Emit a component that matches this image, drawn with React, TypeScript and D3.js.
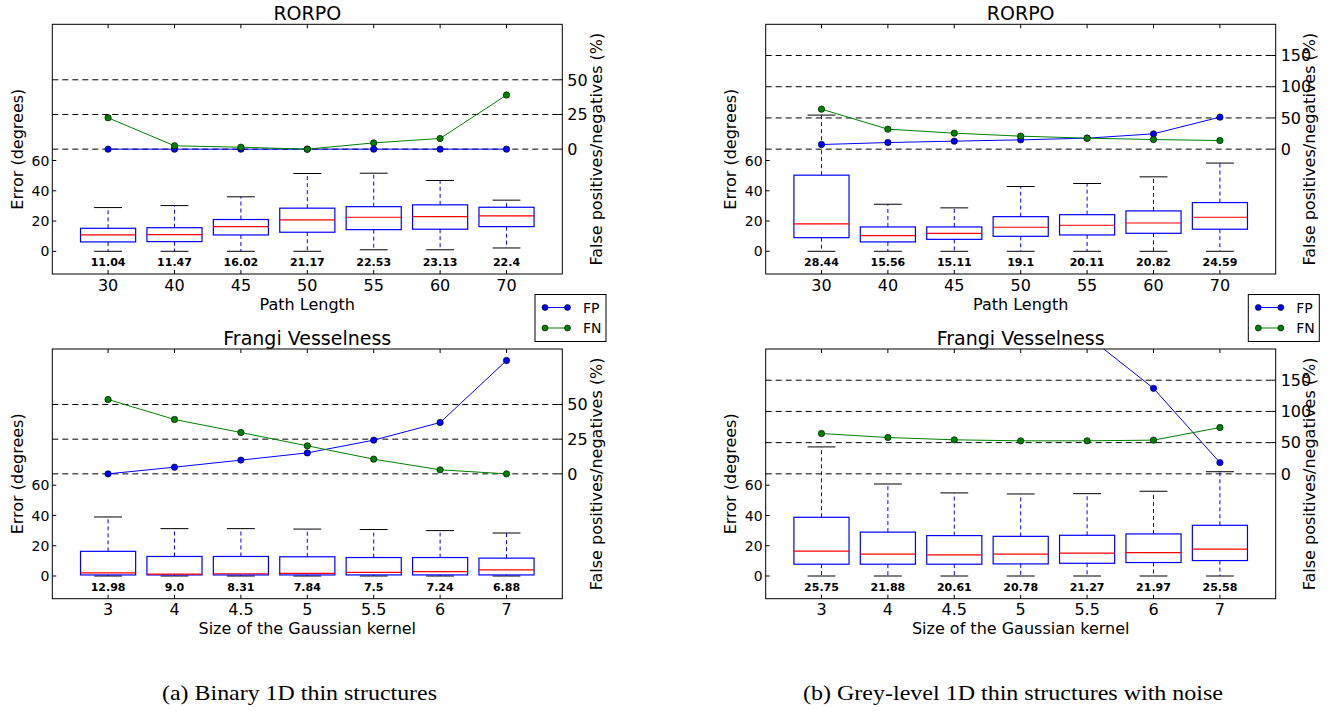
import * as d3 from "d3";

const W = 1337;
const H = 711;
const FONT = "DejaVu Sans";

const pathLengths = ["30", "40", "45", "50", "55", "60", "70"];
const kernelSizes = ["3", "4", "4.5", "5", "5.5", "6", "7"];

const errTicks = [0, 20, 40, 60];
const pctTicksA = [0, 25, 50];
const pctTicksB = [0, 50, 100, 150];

// boxes: [low whisker, Q1, median, Q3, high whisker], degrees
const rorpoBinBoxes = [
  [0, 6.2, 10.8, 15.2, 28.9],
  [0, 6.4, 11, 15.6, 30.2],
  [0, 10.8, 16.3, 21, 36],
  [0, 12.6, 20.7, 28.5, 51.4],
  [1, 14.3, 22.5, 29.5, 51.6],
  [1, 14.6, 22.9, 30.7, 46.8],
  [2.2, 16.3, 23.4, 29.1, 33.8],
];
const rorpoBinMeans = ["11.04", "11.47", "16.02", "21.17", "22.53", "23.13", "22.4"];
const rorpoBinFP = [0, 0, 0, 0, 0, 0, 0];
const rorpoBinFN = [22.6, 2.4, 1.4, 0, 4.5, 7.7, 39];

const rorpoNoiseBoxes = [
  [0, 9, 18.1, 50.3, 90],
  [0, 6.2, 10.3, 16.1, 31.1],
  [0, 7.9, 11.9, 16.1, 28.7],
  [0, 9.9, 15.9, 22.9, 42.8],
  [0, 10.8, 17.2, 24.2, 44.8],
  [0, 11.9, 18.7, 26.7, 49.2],
  [0, 14.6, 22.5, 32.2, 58.3],
];
const rorpoNoiseMeans = ["28.44", "15.56", "15.11", "19.1", "20.11", "20.82", "24.59"];
const rorpoNoiseFP = [7.4, 10.6, 12.8, 14.9, 17.6, 24.5, 51.3];
const rorpoNoiseFN = [64.1, 32, 25.6, 20.8, 17.6, 15.4, 13.8];

const frangiBinBoxes = [
  [0, 0.7, 2, 16.3, 39],
  [0, 0.7, 1.3, 12.9, 31.3],
  [0, 0.7, 1.5, 12.9, 31.3],
  [0, 0.7, 1.8, 12.7, 31],
  [0, 0.7, 2.4, 12.2, 30.7],
  [0, 0.7, 2.9, 12.2, 30],
  [0, 0.7, 4, 11.8, 28.4],
];
const frangiBinMeans = ["12.98", "9.0", "8.31", "7.84", "7.5", "7.24", "6.88"];
const frangiBinFP = [0, 4.8, 9.9, 15.1, 24.3, 37, 81.7];
const frangiBinFN = [53.6, 39.2, 29.8, 20.2, 10.6, 2.9, 0];

const frangiNoiseBoxes = [
  [0, 7.8, 16.5, 38.8, 85.3],
  [0, 7.8, 14.4, 29, 60.8],
  [0, 7.8, 14, 26.7, 54.9],
  [0, 8, 14.4, 26.2, 54.2],
  [0, 8.4, 15.1, 26.9, 54.4],
  [0, 8.9, 15.5, 27.8, 56],
  [0, 10.2, 17.8, 33.5, 68.9],
];
const frangiNoiseMeans = ["25.75", "21.88", "20.61", "20.78", "21.27", "21.97", "25.58"];
const frangiNoiseFP = [420, 360, 310, 262, 221, 137, 18];
const frangiNoiseFN = [64.6, 58.2, 54.5, 52.9, 52.9, 54, 74.2];

const PW = 510;
const PH = 249.7;

type PanelProps = {
  id: string;
  left: number;
  top: number;
  title: string;
  xLabel: string;
  cats: string[];
  boxes: number[][];
  means: string[];
  fp: number[];
  fn: number[];
  rDomain: [number, number];
  rTicks: number[];
};

function Panel(p: PanelProps) {
  const { left, top } = p;
  const right = left + PW;
  const bottom = top + PH;
  const x = d3.scaleLinear().domain([0.16, 7.84]).range([left, right]);
  const yL = d3.scaleLinear().domain([-15, 150]).range([bottom, top]);
  const yR = d3.scaleLinear().domain(p.rDomain).range([bottom, top]);
  const line = d3
    .line<number>()
    .x((_, i) => x(i + 1))
    .y((d) => yR(d));
  const bw = 0.83;
  const cw = 0.42;
  const cx = (left + right) / 2;
  const cy = (top + bottom) / 2;

  return (
    <g>
      <defs>
        <clipPath id={p.id}>
          <rect x={left} y={top} width={PW} height={PH} />
        </clipPath>
      </defs>
      {/* dashed grid on right axis */}
      {p.rTicks.map((t) => (
        <line key={t} x1={left} x2={right} y1={yR(t)} y2={yR(t)} stroke="#000" strokeDasharray="6,4" />
      ))}
      {/* boxplots */}
      {p.boxes.map((b, i) => {
        const xc = x(i + 1);
        const [lo, q1, med, q3, hi] = b;
        return (
          <g key={i}>
            <line x1={xc} x2={xc} y1={yL(q3)} y2={yL(hi)} stroke="#0000ff" strokeDasharray="4,3" />
            <line x1={xc} x2={xc} y1={yL(q1)} y2={yL(lo)} stroke="#0000ff" strokeDasharray="4,3" />
            <line x1={x(i + 1 - cw / 2)} x2={x(i + 1 + cw / 2)} y1={yL(hi)} y2={yL(hi)} stroke="#000" />
            <line x1={x(i + 1 - cw / 2)} x2={x(i + 1 + cw / 2)} y1={yL(lo)} y2={yL(lo)} stroke="#000" />
            <rect
              x={x(i + 1 - bw / 2)}
              y={yL(q3)}
              width={x(i + 1 + bw / 2) - x(i + 1 - bw / 2)}
              height={yL(q1) - yL(q3)}
              fill="none"
              stroke="#0000ff"
              strokeWidth={1.2}
            />
            <line x1={x(i + 1 - bw / 2)} x2={x(i + 1 + bw / 2)} y1={yL(med)} y2={yL(med)} stroke="#ff0000" strokeWidth={1.2} />
            <text
              x={xc}
              y={yL(-7.2)}
              dy="0.35em"
              textAnchor="middle"
              fontSize={11}
              fontWeight="bold"
              fontFamily={FONT}
            >
              {p.means[i]}
            </text>
          </g>
        );
      })}
      {/* FP / FN lines */}
      <g clipPath={`url(#${p.id})`}>
        <path d={line(p.fp) || ""} fill="none" stroke="#0000ff" strokeWidth={1} />
        {p.fp.map((v, i) => (
          <circle key={i} cx={x(i + 1)} cy={yR(v)} r={3.2} fill="#0000ff" stroke="#000" strokeWidth={0.6} />
        ))}
        <path d={line(p.fn) || ""} fill="none" stroke="#008000" strokeWidth={1} />
        {p.fn.map((v, i) => (
          <circle key={i} cx={x(i + 1)} cy={yR(v)} r={3.2} fill="#008000" stroke="#000" strokeWidth={0.6} />
        ))}
      </g>
      {/* frame */}
      <rect x={left} y={top} width={PW} height={PH} fill="none" stroke="#000" strokeWidth={1} />
      {/* x ticks */}
      {p.cats.map((c, i) => (
        <g key={c}>
          <line x1={x(i + 1)} x2={x(i + 1)} y1={bottom} y2={bottom - 4} stroke="#000" />
          <line x1={x(i + 1)} x2={x(i + 1)} y1={top} y2={top + 4} stroke="#000" />
          <text x={x(i + 1)} y={bottom + 16.5} textAnchor="middle" fontSize={16} fontFamily={FONT}>
            {c}
          </text>
        </g>
      ))}
      {/* left ticks */}
      {errTicks.map((t) => (
        <g key={t}>
          <line x1={left} x2={left + 4} y1={yL(t)} y2={yL(t)} stroke="#000" />
          <text x={left - 3} y={yL(t)} dy="0.36em" textAnchor="end" fontSize={14} fontFamily={FONT}>
            {t}
          </text>
        </g>
      ))}
      {/* right ticks */}
      {p.rTicks.map((t) => (
        <g key={t}>
          <line x1={right} x2={right - 4} y1={yR(t)} y2={yR(t)} stroke="#000" />
          <text x={right + 5} y={yR(t)} dy="0.36em" textAnchor="start" fontSize={16} fontFamily={FONT}>
            {t}
          </text>
        </g>
      ))}
      <text x={cx} y={top - 4} textAnchor="middle" fontSize={19} fontFamily={FONT}>
        {p.title}
      </text>
      <text x={cx} y={bottom + 35.5} textAnchor="middle" fontSize={16} fontFamily={FONT}>
        {p.xLabel}
      </text>
      <text
        transform={`translate(${left - 35},${cy}) rotate(-90)`}
        textAnchor="middle"
        dy="0.35em"
        fontSize={16}
        fontFamily={FONT}
      >
        Error (degrees)
      </text>
      <text
        transform={`translate(${right + 34},${cy}) rotate(-90)`}
        textAnchor="middle"
        dy="0.35em"
        fontSize={16}
        fontFamily={FONT}
      >
        False positives/negatives (%)
      </text>
    </g>
  );
}

function Legend({ left, top }: { left: number; top: number }) {
  const rows = [
    { name: "FP", color: "#0000ff" },
    { name: "FN", color: "#008000" },
  ];
  return (
    <g>
      <rect x={left} y={top} width={71} height={47} fill="#fff" stroke="#000" strokeWidth={1} />
      {rows.map((r, i) => {
        const yy = top + 13 + i * 20.5;
        return (
          <g key={r.name}>
            <line x1={left + 10} x2={left + 32.5} y1={yy} y2={yy} stroke={r.color} />
            <circle cx={left + 10} cy={yy} r={3} fill={r.color} stroke="#000" strokeWidth={0.6} />
            <circle cx={left + 32.5} cy={yy} r={3} fill={r.color} stroke="#000" strokeWidth={0.6} />
            <text x={left + 48} y={yy} dy="0.36em" fontSize={14} fontFamily={FONT}>
              {r.name}
            </text>
          </g>
        );
      })}
    </g>
  );
}

export default function App() {
  const L1 = 52.3;
  const L2 = 765.7;
  const T1 = 24.3;
  const T2 = 349;
  return (
    <svg
      width={W}
      height={H}
      viewBox={`0 0 ${W} ${H}`}
      style={{ position: "absolute", left: 0, top: 0, background: "#fff" }}
    >
      <rect width={W} height={H} fill="#fff" />
      <Panel
        id="c1"
        left={L1}
        top={T1}
        title="RORPO"
        xLabel="Path Length"
        cats={pathLengths}
        boxes={rorpoBinBoxes}
        means={rorpoBinMeans}
        fp={rorpoBinFP}
        fn={rorpoBinFN}
        rDomain={[-90, 90]}
        rTicks={pctTicksA}
      />
      <Panel
        id="c2"
        left={L2}
        top={T1}
        title="RORPO"
        xLabel="Path Length"
        cats={pathLengths}
        boxes={rorpoNoiseBoxes}
        means={rorpoNoiseMeans}
        fp={rorpoNoiseFP}
        fn={rorpoNoiseFN}
        rDomain={[-200, 200]}
        rTicks={pctTicksB}
      />
      <Panel
        id="c3"
        left={L1}
        top={T2}
        title="Frangi Vesselness"
        xLabel="Size of the Gaussian kernel"
        cats={kernelSizes}
        boxes={frangiBinBoxes}
        means={frangiBinMeans}
        fp={frangiBinFP}
        fn={frangiBinFN}
        rDomain={[-90, 90]}
        rTicks={pctTicksA}
      />
      <Panel
        id="c4"
        left={L2}
        top={T2}
        title="Frangi Vesselness"
        xLabel="Size of the Gaussian kernel"
        cats={kernelSizes}
        boxes={frangiNoiseBoxes}
        means={frangiNoiseMeans}
        fp={frangiNoiseFP}
        fn={frangiNoiseFN}
        rDomain={[-200, 200]}
        rTicks={pctTicksB}
      />
      <Legend left={535} top={294.5} />
      <Legend left={1248.3} top={294.5} />
      <text x={162} y={700} fontSize={22} fontFamily="Liberation Serif" textLength={275} lengthAdjust="spacingAndGlyphs">
        (a) Binary 1D thin structures
      </text>
      <text x={803} y={700} fontSize={22} fontFamily="Liberation Serif" textLength={420} lengthAdjust="spacingAndGlyphs">
        (b) Grey-level 1D thin structures with noise
      </text>
    </svg>
  );
}
